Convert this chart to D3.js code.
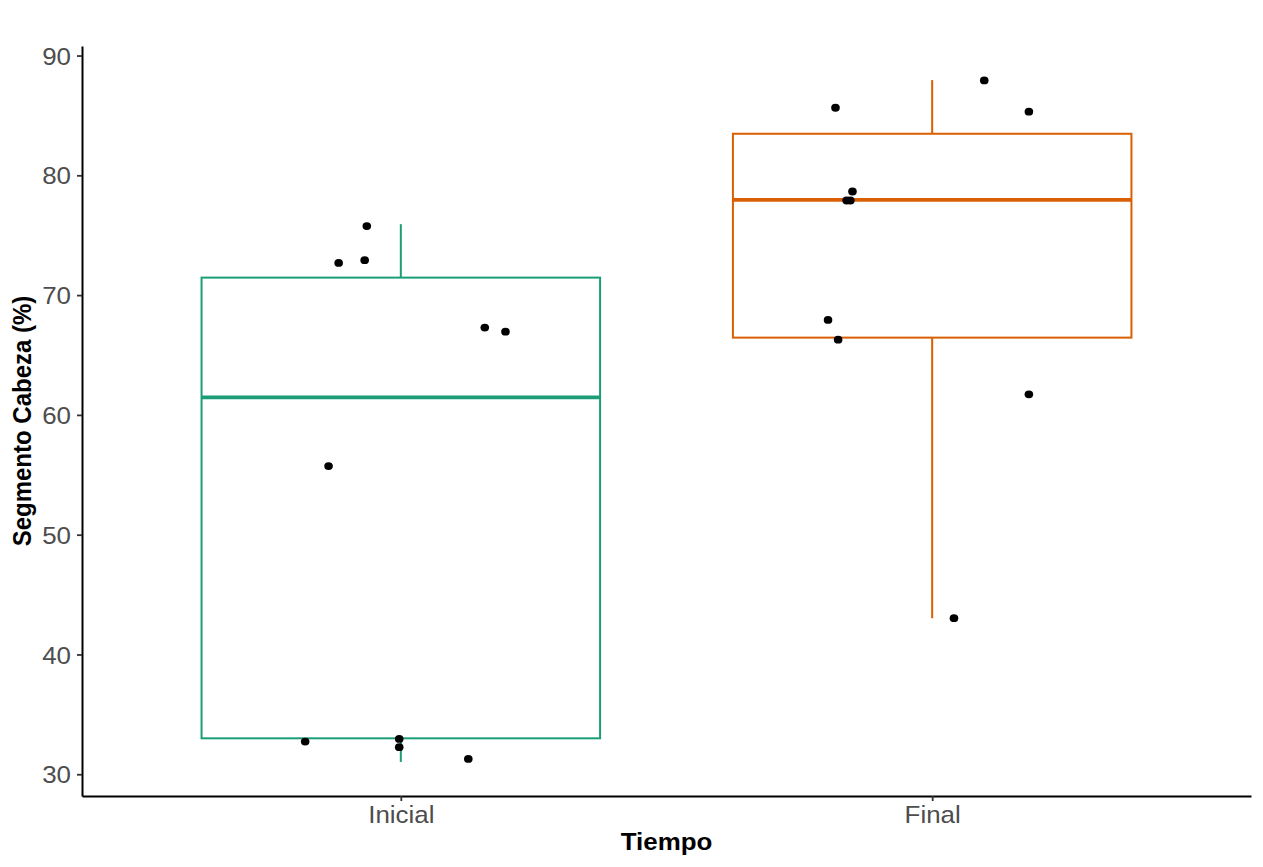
<!DOCTYPE html>
<html>
<script src="https://d3js.org/d3.v7.min.js"></script>

<head>
    <style>
        body {
            margin: 0;
            background-color: white;
        }

        svg {
            display: block;
            font-family: "Liberation Sans", Arial, Helvetica, sans-serif;
        }
    </style>
</head>

<body>
</body>
<script>
    const width = 1263,
        height = 867;
    const margin = { top: 46, right: 12, bottom: 71, left: 82 };

    // box statistics
    const tiempo = ["Inicial", "Final"];
    const whiskerLow = [31.03, 43.03];
    const q1 = [33.0, 66.45];
    const median = [61.47, 77.95];
    const q3 = [71.46, 83.47];
    const whiskerHigh = [75.92, 87.95];

    // jittered observations (jitter = horizontal offset in category units)
    const inicialValues = [75.76, 72.69, 72.92, 67.29, 66.95, 55.73, 32.73, 32.95, 32.26, 31.28];
    const inicialJitter = [-0.064, -0.117, -0.068, 0.158, 0.197, -0.136, -0.180, -0.003, -0.003, 0.127];
    const finalValues = [85.64, 87.92, 85.31, 78.65, 77.90, 77.90, 67.93, 66.28, 61.72, 43.03];
    const finalJitter = [-0.182, 0.098, 0.182, -0.150, -0.161, -0.154, -0.196, -0.177, 0.182, 0.041];

    const yTicks = [30, 40, 50, 60, 70, 80, 90];

    // the picture is a little wider than tall, so text is stretched sideways
    const stretch = 1.08;

    const svg = d3.select("body").append("svg").attr("width", width).attr("height", height);

    const points = [
        ...inicialValues.map((v, i) => ({ group: 0, value: v, jitter: inicialJitter[i] })),
        ...finalValues.map((v, i) => ({ group: 1, value: v, jitter: finalJitter[i] }))
    ];

    // ggplot-like expansion: 0.6 on discrete axis, 5% on continuous
    const x = d3.scaleLinear()
        .domain([0.4, tiempo.length + 0.6])
        .range([margin.left, width - margin.right]);

    const ext = d3.extent([...whiskerLow, ...whiskerHigh, ...points.map(d => d.value)]);
    const pad = (ext[1] - ext[0]) * 0.05;
    const y = d3.scaleLinear()
        .domain([ext[0] - pad, ext[1] + pad])
        .range([height - margin.bottom, margin.top]);

    const color = d3.scaleOrdinal(tiempo, ["#1B9E77", "#D95F02"]);
    const boxWidth = 0.75;

    const boxes = tiempo.map((t, i) => ({
        name: t, pos: i + 1,
        lo: whiskerLow[i], q1: q1[i], med: median[i], q3: q3[i], hi: whiskerHigh[i]
    }));

    const g = svg.append("g");

    // whiskers
    g.selectAll(".whisker-lo")
        .data(boxes)
        .join("line")
        .attr("x1", d => x(d.pos)).attr("x2", d => x(d.pos))
        .attr("y1", d => y(d.q1)).attr("y2", d => y(d.lo))
        .attr("stroke", d => color(d.name))
        .attr("stroke-width", 2);
    g.selectAll(".whisker-hi")
        .data(boxes)
        .join("line")
        .attr("x1", d => x(d.pos)).attr("x2", d => x(d.pos))
        .attr("y1", d => y(d.q3)).attr("y2", d => y(d.hi))
        .attr("stroke", d => color(d.name))
        .attr("stroke-width", 2);

    // boxes
    g.selectAll(".box")
        .data(boxes)
        .join("rect")
        .attr("x", d => x(d.pos - boxWidth / 2))
        .attr("width", d => x(d.pos + boxWidth / 2) - x(d.pos - boxWidth / 2))
        .attr("y", d => y(d.q3))
        .attr("height", d => y(d.q1) - y(d.q3))
        .attr("fill", "white")
        .attr("stroke", d => color(d.name))
        .attr("stroke-width", 2);

    // medians
    g.selectAll(".median")
        .data(boxes)
        .join("line")
        .attr("x1", d => x(d.pos - boxWidth / 2))
        .attr("x2", d => x(d.pos + boxWidth / 2))
        .attr("y1", d => y(d.med)).attr("y2", d => y(d.med))
        .attr("stroke", d => color(d.name))
        .attr("stroke-width", 3.8);

    // jittered points
    g.selectAll(".pt")
        .data(points)
        .join("ellipse")
        .attr("cx", d => x(d.group + 1 + d.jitter))
        .attr("cy", d => y(d.value))
        .attr("rx", 4.3)
        .attr("ry", 3.9)
        .attr("fill", "black");

    // axes
    const yAxis = svg.append("g")
        .attr("transform", `translate(${margin.left},0)`)
        .call(d3.axisLeft(y).tickValues(yTicks).tickSize(5).tickSizeOuter(0).tickPadding(6));
    const xAxis = svg.append("g")
        .attr("transform", `translate(0,${height - margin.bottom})`)
        .call(d3.axisBottom(x).tickValues(tiempo.map((t, i) => i + 1))
            .tickFormat((d, i) => tiempo[i]).tickSize(5).tickSizeOuter(0).tickPadding(5));

    [yAxis, xAxis].forEach(a => {
        a.select(".domain").attr("stroke", "black").attr("stroke-width", 2);
        a.selectAll(".tick line").attr("stroke", "#333333").attr("stroke-width", 1.8);
        a.selectAll(".tick text")
            .attr("fill", "#4D4D4D")
            .style("font-size", "24px")
            .style("font-family", "'Liberation Sans', Arial, sans-serif");
    });
    yAxis.selectAll(".tick text")
        .attr("x", -11 / stretch)
        .attr("dy", "0.36em")
        .attr("transform", `scale(${stretch},1)`);
    xAxis.selectAll(".tick text")
        .attr("dy", "0.71em")
        .attr("transform", `scale(${stretch},1)`);

    // axis titles
    svg.append("text")
        .attr("transform", `translate(${(margin.left + width - margin.right) / 2},850) scale(${stretch},1)`)
        .attr("text-anchor", "middle")
        .style("font-size", "24px")
        .style("font-weight", "bold")
        .text("Tiempo");
    svg.append("text")
        .attr("transform", `translate(31,${(margin.top + height - margin.bottom) / 2}) scale(${stretch},1) rotate(-90)`)
        .attr("text-anchor", "middle")
        .style("font-size", "24px")
        .style("font-weight", "bold")
        .text("Segmento Cabeza (%)");
</script>

</html>
